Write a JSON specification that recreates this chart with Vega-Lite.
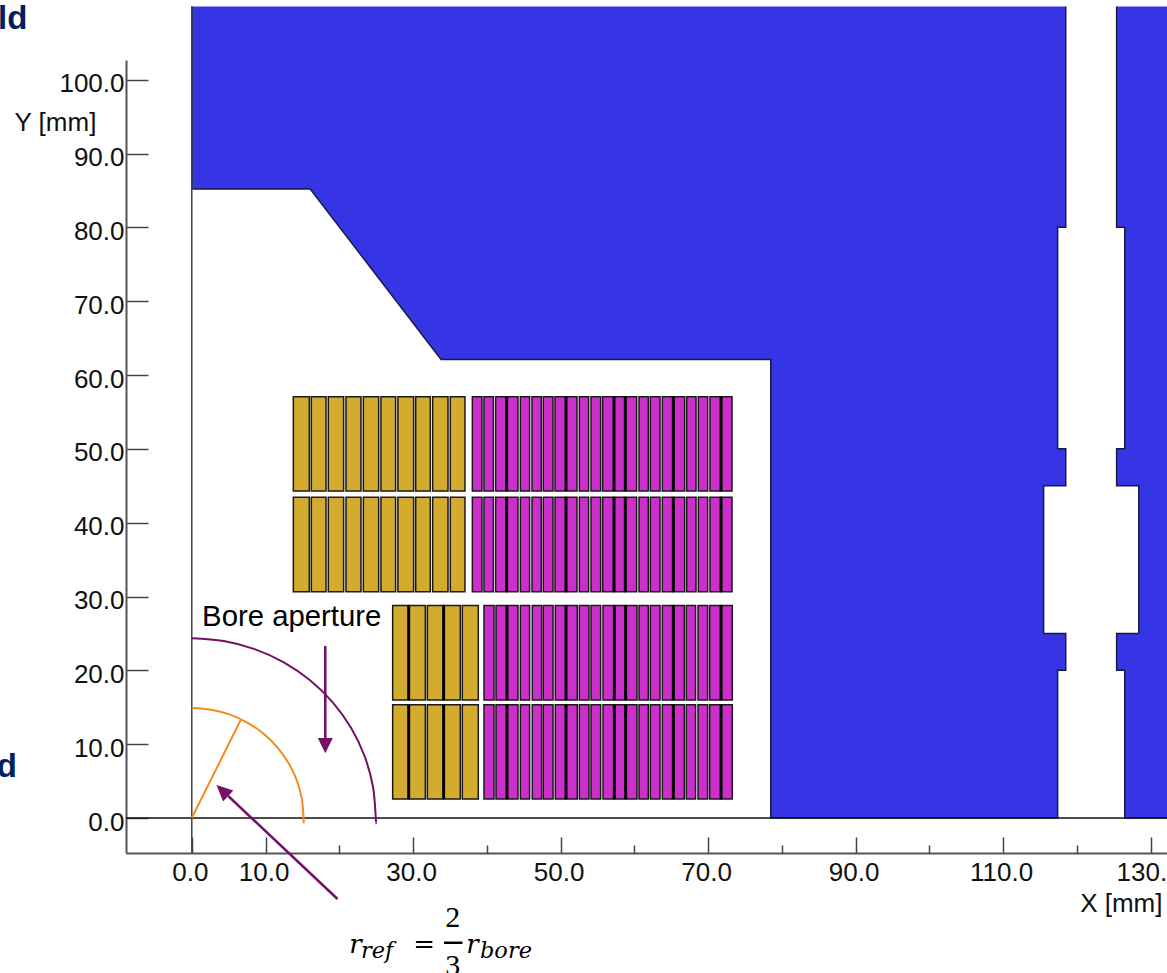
{
"$schema":"https://vega.github.io/schema/vega-lite/v6.json",
"width":1041,"height":793,"autosize":{"type":"none"},"padding":{"left":126,"top":60,"right":0,"bottom":120},
"background":"white",
"config":{"view":{"stroke":null},"axis":{"grid":false,"labelFont":"Liberation Sans","labelFontSize":26,"labelColor":"#111","titleFont":"Liberation Sans","titleFontSize":26,"titleFontWeight":"normal","titleColor":"#111","domainColor":"#555","domainWidth":2,"tickColor":"#444","tickWidth":1.5}},
"encoding":{
"x":{"field":"x","type":"quantitative","scale":{"domain":[-8.92,132.23],"nice":false,"zero":false},"axis":null},
"y":{"field":"y","type":"quantitative","scale":{"domain":[-4.74,102.67],"nice":false,"zero":false},"axis":null}
},
"resolve":{"axis":{"x":"independent","y":"independent"}},
"layer":[
{"data":{"values":[
{"part":"a","i":1,"x":118.5,"y":109.9},{"part":"a","i":2,"x":118.5,"y":80},{"part":"a","i":3,"x":117.4,"y":80},{"part":"a","i":4,"x":117.4,"y":50},{"part":"a","i":5,"x":118.5,"y":50},{"part":"a","i":6,"x":118.5,"y":45},{"part":"a","i":7,"x":115.5,"y":45},{"part":"a","i":8,"x":115.5,"y":25},{"part":"a","i":9,"x":118.5,"y":25},{"part":"a","i":10,"x":118.5,"y":20},{"part":"a","i":11,"x":117.4,"y":20},{"part":"a","i":12,"x":117.4,"y":0},{"part":"a","i":13,"x":78.5,"y":0},{"part":"a","i":14,"x":78.5,"y":62.1},{"part":"a","i":15,"x":33.8,"y":62.1},{"part":"a","i":16,"x":16.06,"y":85.2},{"part":"a","i":17,"x":0,"y":85.2},{"part":"a","i":18,"x":0,"y":109.9},
{"part":"b","i":1,"x":125.4,"y":109.9},{"part":"b","i":2,"x":125.4,"y":80},{"part":"b","i":3,"x":126.5,"y":80},{"part":"b","i":4,"x":126.5,"y":50},{"part":"b","i":5,"x":125.4,"y":50},{"part":"b","i":6,"x":125.4,"y":45},{"part":"b","i":7,"x":128.4,"y":45},{"part":"b","i":8,"x":128.4,"y":25},{"part":"b","i":9,"x":125.4,"y":25},{"part":"b","i":10,"x":125.4,"y":20},{"part":"b","i":11,"x":126.5,"y":20},{"part":"b","i":12,"x":126.5,"y":0},{"part":"b","i":13,"x":134,"y":0},{"part":"b","i":14,"x":134,"y":109.9}
]},
"mark":{"type":"line","fill":"#3535E6","stroke":"#1a1a40","strokeWidth":1.5,"interpolate":"linear"},
"encoding":{"detail":{"field":"part"},"order":{"field":"i","type":"quantitative"},
"x":{"field":"x","type":"quantitative","scale":{"domain":[-8.92,132.23],"nice":false,"zero":false},"axis":{"orient":"bottom","values":[0,10,30,50,70,90,110,130],"format":".1f","title":"X [mm]","tickSize":-16,"labelPadding":22,"labelOffset":-2,"titleX":1036,"titleY":50,"titleAlign":"right","titleAnchor":"end","titleBaseline":"middle"}},
"y":{"field":"y","type":"quantitative","scale":{"domain":[-4.74,102.67],"nice":false,"zero":false},"axis":{"orient":"left","values":[0,10,20,30,40,50,60,70,80,90,100],"format":".1f","title":"Y [mm]","tickSize":-22,"labelPadding":24,"labelOffset":4,"titleAngle":0,"titleX":-112,"titleY":62,"titleAlign":"left","titleBaseline":"middle"}}}},
{"data":{"values":[{"x":0,"y":-4.74,"y2":109.9}]},
"mark":{"type":"rule","color":"#444","strokeWidth":1.5},
"encoding":{"x":{"field":"x","type":"quantitative","scale":{"domain":[-8.92,132.23],"nice":false,"zero":false},"axis":{"orient":"bottom","values":[20,40,60,80,100,120],"labels":false,"domain":false,"title":null,"tickSize":-8}},"y2":{"field":"y2"}}},
{"data":{"values":[{"x":-8.92,"x2":132.23,"y":0}]},
"mark":{"type":"rule","color":"#111","strokeWidth":1.5},
"encoding":{"x2":{"field":"x2"}}},
{"data":{"values":[
{"kind":"g","x":13.77,"x2":15.94,"y":57.06,"y2":44.3},{"kind":"g","x":16.21,"x2":18.2,"y":57.06,"y2":44.3},{"kind":"g","x":18.51,"x2":20.59,"y":57.06,"y2":44.3},{"kind":"g","x":20.91,"x2":22.94,"y":57.06,"y2":44.3},{"kind":"g","x":23.26,"x2":25.34,"y":57.06,"y2":44.3},{"kind":"g","x":25.65,"x2":27.64,"y":57.06,"y2":44.3},{"kind":"g","x":27.95,"x2":30.08,"y":57.06,"y2":44.3},{"kind":"g","x":30.36,"x2":32.34,"y":57.06,"y2":44.3},{"kind":"g","x":32.66,"x2":34.74,"y":57.06,"y2":44.3},{"kind":"g","x":35.05,"x2":37.04,"y":57.06,"y2":44.3},
{"kind":"m","x":38.04,"x2":39.35,"y":57.06,"y2":44.3},{"kind":"m","x":39.62,"x2":40.89,"y":57.06,"y2":44.3},{"kind":"m","x":41.2,"x2":42.69,"y":57.06,"y2":44.3},{"kind":"m","x":42.69,"x2":44.23,"y":57.06,"y2":44.3},{"kind":"m","x":44.55,"x2":45.81,"y":57.06,"y2":44.3},{"kind":"m","x":46.13,"x2":47.39,"y":57.06,"y2":44.3},{"kind":"m","x":47.66,"x2":48.98,"y":57.06,"y2":44.3},{"kind":"m","x":49.25,"x2":50.74,"y":57.06,"y2":44.3},{"kind":"m","x":50.74,"x2":52.23,"y":57.06,"y2":44.3},{"kind":"m","x":52.55,"x2":53.81,"y":57.06,"y2":44.3},{"kind":"m","x":54.13,"x2":55.44,"y":57.06,"y2":44.3},{"kind":"m","x":55.71,"x2":57.25,"y":57.06,"y2":44.3},{"kind":"m","x":57.25,"x2":58.78,"y":57.06,"y2":44.3},{"kind":"m","x":58.78,"x2":60.32,"y":57.06,"y2":44.3},{"kind":"m","x":60.64,"x2":61.9,"y":57.06,"y2":44.3},{"kind":"m","x":62.17,"x2":63.49,"y":57.06,"y2":44.3},{"kind":"m","x":63.8,"x2":65.29,"y":57.06,"y2":44.3},{"kind":"m","x":65.29,"x2":66.83,"y":57.06,"y2":44.3},{"kind":"m","x":67.1,"x2":68.37,"y":57.06,"y2":44.3},{"kind":"m","x":68.68,"x2":69.95,"y":57.06,"y2":44.3},{"kind":"m","x":70.26,"x2":71.76,"y":57.06,"y2":44.3},{"kind":"m","x":71.76,"x2":73.25,"y":57.06,"y2":44.3},
{"kind":"g","x":13.77,"x2":15.94,"y":43.44,"y2":30.65},{"kind":"g","x":16.21,"x2":18.2,"y":43.44,"y2":30.65},{"kind":"g","x":18.51,"x2":20.59,"y":43.44,"y2":30.65},{"kind":"g","x":20.91,"x2":22.94,"y":43.44,"y2":30.65},{"kind":"g","x":23.26,"x2":25.34,"y":43.44,"y2":30.65},{"kind":"g","x":25.65,"x2":27.64,"y":43.44,"y2":30.65},{"kind":"g","x":27.95,"x2":30.08,"y":43.44,"y2":30.65},{"kind":"g","x":30.36,"x2":32.34,"y":43.44,"y2":30.65},{"kind":"g","x":32.66,"x2":34.74,"y":43.44,"y2":30.65},{"kind":"g","x":35.05,"x2":37.04,"y":43.44,"y2":30.65},
{"kind":"m","x":38.04,"x2":39.35,"y":43.44,"y2":30.65},{"kind":"m","x":39.62,"x2":40.89,"y":43.44,"y2":30.65},{"kind":"m","x":41.2,"x2":42.69,"y":43.44,"y2":30.65},{"kind":"m","x":42.69,"x2":44.23,"y":43.44,"y2":30.65},{"kind":"m","x":44.55,"x2":45.81,"y":43.44,"y2":30.65},{"kind":"m","x":46.13,"x2":47.39,"y":43.44,"y2":30.65},{"kind":"m","x":47.66,"x2":48.98,"y":43.44,"y2":30.65},{"kind":"m","x":49.25,"x2":50.74,"y":43.44,"y2":30.65},{"kind":"m","x":50.74,"x2":52.23,"y":43.44,"y2":30.65},{"kind":"m","x":52.55,"x2":53.81,"y":43.44,"y2":30.65},{"kind":"m","x":54.13,"x2":55.44,"y":43.44,"y2":30.65},{"kind":"m","x":55.71,"x2":57.25,"y":43.44,"y2":30.65},{"kind":"m","x":57.25,"x2":58.78,"y":43.44,"y2":30.65},{"kind":"m","x":58.78,"x2":60.32,"y":43.44,"y2":30.65},{"kind":"m","x":60.64,"x2":61.9,"y":43.44,"y2":30.65},{"kind":"m","x":62.17,"x2":63.49,"y":43.44,"y2":30.65},{"kind":"m","x":63.8,"x2":65.29,"y":43.44,"y2":30.65},{"kind":"m","x":65.29,"x2":66.83,"y":43.44,"y2":30.65},{"kind":"m","x":67.1,"x2":68.37,"y":43.44,"y2":30.65},{"kind":"m","x":68.68,"x2":69.95,"y":43.44,"y2":30.65},{"kind":"m","x":70.26,"x2":71.76,"y":43.44,"y2":30.65},{"kind":"m","x":71.76,"x2":73.25,"y":43.44,"y2":30.65},
{"kind":"g","x":27.24,"x2":29.41,"y":28.8,"y2":15.98},{"kind":"g","x":29.41,"x2":31.67,"y":28.8,"y2":15.98},{"kind":"g","x":31.94,"x2":34.15,"y":28.8,"y2":15.98},{"kind":"g","x":34.15,"x2":36.41,"y":28.8,"y2":15.98},{"kind":"g","x":36.68,"x2":38.85,"y":28.8,"y2":15.98},
{"kind":"m","x":39.62,"x2":40.98,"y":28.8,"y2":15.98},{"kind":"m","x":41.25,"x2":42.74,"y":28.8,"y2":15.98},{"kind":"m","x":42.74,"x2":44.23,"y":28.8,"y2":15.98},{"kind":"m","x":44.55,"x2":45.81,"y":28.8,"y2":15.98},{"kind":"m","x":46.17,"x2":47.44,"y":28.8,"y2":15.98},{"kind":"m","x":47.66,"x2":48.98,"y":28.8,"y2":15.98},{"kind":"m","x":49.29,"x2":50.74,"y":28.8,"y2":15.98},{"kind":"m","x":50.74,"x2":52.27,"y":28.8,"y2":15.98},{"kind":"m","x":52.55,"x2":53.86,"y":28.8,"y2":15.98},{"kind":"m","x":54.13,"x2":55.44,"y":28.8,"y2":15.98},{"kind":"m","x":55.76,"x2":57.29,"y":28.8,"y2":15.98},{"kind":"m","x":57.29,"x2":58.83,"y":28.8,"y2":15.98},{"kind":"m","x":58.83,"x2":60.37,"y":28.8,"y2":15.98},{"kind":"m","x":60.64,"x2":61.9,"y":28.8,"y2":15.98},{"kind":"m","x":62.17,"x2":63.49,"y":28.8,"y2":15.98},{"kind":"m","x":63.8,"x2":65.29,"y":28.8,"y2":15.98},{"kind":"m","x":65.29,"x2":66.78,"y":28.8,"y2":15.98},{"kind":"m","x":67.05,"x2":68.31,"y":28.8,"y2":15.98},{"kind":"m","x":68.64,"x2":69.95,"y":28.8,"y2":15.98},{"kind":"m","x":70.22,"x2":71.76,"y":28.8,"y2":15.98},{"kind":"m","x":71.76,"x2":73.29,"y":28.8,"y2":15.98},
{"kind":"g","x":27.24,"x2":29.41,"y":15.35,"y2":2.57},{"kind":"g","x":29.41,"x2":31.67,"y":15.35,"y2":2.57},{"kind":"g","x":31.94,"x2":34.15,"y":15.35,"y2":2.57},{"kind":"g","x":34.15,"x2":36.41,"y":15.35,"y2":2.57},{"kind":"g","x":36.68,"x2":38.85,"y":15.35,"y2":2.57},
{"kind":"m","x":39.62,"x2":40.98,"y":15.35,"y2":2.57},{"kind":"m","x":41.25,"x2":42.74,"y":15.35,"y2":2.57},{"kind":"m","x":42.74,"x2":44.23,"y":15.35,"y2":2.57},{"kind":"m","x":44.55,"x2":45.81,"y":15.35,"y2":2.57},{"kind":"m","x":46.17,"x2":47.44,"y":15.35,"y2":2.57},{"kind":"m","x":47.66,"x2":48.98,"y":15.35,"y2":2.57},{"kind":"m","x":49.29,"x2":50.74,"y":15.35,"y2":2.57},{"kind":"m","x":50.74,"x2":52.27,"y":15.35,"y2":2.57},{"kind":"m","x":52.55,"x2":53.86,"y":15.35,"y2":2.57},{"kind":"m","x":54.13,"x2":55.44,"y":15.35,"y2":2.57},{"kind":"m","x":55.76,"x2":57.29,"y":15.35,"y2":2.57},{"kind":"m","x":57.29,"x2":58.83,"y":15.35,"y2":2.57},{"kind":"m","x":58.83,"x2":60.37,"y":15.35,"y2":2.57},{"kind":"m","x":60.64,"x2":61.9,"y":15.35,"y2":2.57},{"kind":"m","x":62.17,"x2":63.49,"y":15.35,"y2":2.57},{"kind":"m","x":63.8,"x2":65.29,"y":15.35,"y2":2.57},{"kind":"m","x":65.29,"x2":66.78,"y":15.35,"y2":2.57},{"kind":"m","x":67.05,"x2":68.31,"y":15.35,"y2":2.57},{"kind":"m","x":68.64,"x2":69.95,"y":15.35,"y2":2.57},{"kind":"m","x":70.22,"x2":71.76,"y":15.35,"y2":2.57},{"kind":"m","x":71.76,"x2":73.29,"y":15.35,"y2":2.57}
]},
"mark":{"type":"rect","stroke":"#1a1a1a","strokeWidth":1.5},
"encoding":{"x2":{"field":"x2"},"y2":{"field":"y2"},"fill":{"field":"kind","type":"nominal","legend":null,"scale":{"domain":["g","m"],"range":["#D2AB2F","#CC2FCC"]}}}},
{"data":{"values":[
{"x":42.69,"y":57.06,"y2":44.3},{"x":50.74,"y":57.06,"y2":44.3},{"x":57.25,"y":57.06,"y2":44.3},{"x":58.78,"y":57.06,"y2":44.3},{"x":65.29,"y":57.06,"y2":44.3},{"x":71.76,"y":57.06,"y2":44.3},
{"x":42.69,"y":43.44,"y2":30.65},{"x":50.74,"y":43.44,"y2":30.65},{"x":57.25,"y":43.44,"y2":30.65},{"x":58.78,"y":43.44,"y2":30.65},{"x":65.29,"y":43.44,"y2":30.65},{"x":71.76,"y":43.44,"y2":30.65},
{"x":29.41,"y":28.8,"y2":15.98},{"x":34.15,"y":28.8,"y2":15.98},{"x":42.74,"y":28.8,"y2":15.98},{"x":50.74,"y":28.8,"y2":15.98},{"x":57.29,"y":28.8,"y2":15.98},{"x":58.83,"y":28.8,"y2":15.98},{"x":65.29,"y":28.8,"y2":15.98},{"x":71.76,"y":28.8,"y2":15.98},
{"x":29.41,"y":15.35,"y2":2.57},{"x":34.15,"y":15.35,"y2":2.57},{"x":42.74,"y":15.35,"y2":2.57},{"x":50.74,"y":15.35,"y2":2.57},{"x":57.29,"y":15.35,"y2":2.57},{"x":58.83,"y":15.35,"y2":2.57},{"x":65.29,"y":15.35,"y2":2.57},{"x":71.76,"y":15.35,"y2":2.57}
]},
"mark":{"type":"rule","color":"#000","strokeWidth":3},
"encoding":{"y2":{"field":"y2"}}},
{"data":{"values":[
{"i":1,"x":0,"y":24.35},{"i":2,"x":4.33,"y":23.98},{"i":3,"x":8.53,"y":22.88},{"i":4,"x":12.48,"y":21.09},{"i":5,"x":16.04,"y":18.65},{"i":6,"x":19.11,"y":15.65},{"i":7,"x":21.61,"y":12.18},{"i":8,"x":23.45,"y":8.33},{"i":9,"x":24.57,"y":4.23},{"i":10,"x":24.95,"y":0},{"i":11,"x":24.95,"y":-0.7}
]},
"mark":{"type":"line","color":"#760F68","strokeWidth":2,"interpolate":"cardinal"},
"encoding":{"order":{"field":"i","type":"quantitative"}}},
{"data":{"values":[
{"i":1,"x":0,"y":14.9},{"i":2,"x":2.63,"y":14.67},{"i":3,"x":5.18,"y":14.0},{"i":4,"x":7.58,"y":12.9},{"i":5,"x":9.74,"y":11.41},{"i":6,"x":11.61,"y":9.58},{"i":7,"x":13.12,"y":7.45},{"i":8,"x":14.24,"y":5.1},{"i":9,"x":14.92,"y":2.59},{"i":10,"x":15.15,"y":0},{"i":11,"x":15.15,"y":-0.7}
]},
"mark":{"type":"line","color":"#F58A20","strokeWidth":2,"interpolate":"cardinal"},
"encoding":{"order":{"field":"i","type":"quantitative"}}},
{"data":{"values":[{"x":0,"y":0,"x2":6.63,"y2":13.27}]},
"mark":{"type":"rule","color":"#F58A20","strokeWidth":2},
"encoding":{"x2":{"field":"x2"},"y2":{"field":"y2"}}},
{"data":{"values":[{"x":18.1,"y":23.3,"x2":18.1,"y2":10.84},{"x":19.76,"y":-10.97,"x2":4.94,"y2":2.98}]},
"mark":{"type":"rule","color":"#760F68","strokeWidth":2.5},
"encoding":{"x2":{"field":"x2"},"y2":{"field":"y2"}}},
{"data":{"values":[
{"a":"down","i":1,"x":17.08,"y":10.84},{"a":"down","i":2,"x":19.12,"y":10.84},{"a":"down","i":3,"x":18.1,"y":8.76},
{"a":"diag","i":1,"x":5.63,"y":3.72},{"a":"diag","i":2,"x":4.24,"y":2.23},{"a":"diag","i":3,"x":3.35,"y":4.47}
]},
"mark":{"type":"line","fill":"#760F68","stroke":null,"interpolate":"linear"},
"encoding":{"detail":{"field":"a"},"order":{"field":"i","type":"quantitative"}}},
{"data":{"values":[{"x":1.4,"y":27.2,"t":"Bore aperture"}]},
"mark":{"type":"text","font":"Liberation Sans","fontSize":29.3,"color":"#000","align":"left","baseline":"middle"},
"encoding":{"text":{"field":"t"}}},
{"data":{"values":[{"x":-22.3,"y":108.2,"t":"ld"},{"x":-23.7,"y":6.85,"t":"d"}]},
"mark":{"type":"text","font":"Liberation Sans","fontSize":33,"fontWeight":"bold","color":"#002060","align":"right","baseline":"middle"},
"encoding":{"text":{"field":"t"}}},
{"data":{"values":[{"x":21.35,"y":-18.29,"t":"r"},{"x":37.2,"y":-18.29,"t":"r"}]},
"mark":{"type":"text","font":"DejaVu Serif","fontStyle":"italic","fontSize":26,"color":"#000","align":"left","baseline":"alphabetic"},
"encoding":{"text":{"field":"t"}}},
{"data":{"values":[{"x":22.95,"y":-18.96,"t":"ref"},{"x":39.07,"y":-18.96,"t":"bore"}]},
"mark":{"type":"text","font":"DejaVu Serif","fontStyle":"italic","fontSize":22.5,"color":"#000","align":"left","baseline":"alphabetic"},
"encoding":{"text":{"field":"t"}}},
{"data":{"values":[{"x":31.5,"y":-18.35,"t":"="}]},
"mark":{"type":"text","font":"DejaVu Serif","fontSize":26,"color":"#000","align":"center","baseline":"alphabetic"},
"encoding":{"text":{"field":"t"}}},
{"data":{"values":[{"x":35.4,"y":-14.7,"t":"2"},{"x":35.4,"y":-21.2,"t":"3"}]},
"mark":{"type":"text","font":"Liberation Serif","fontSize":30,"color":"#000","align":"center","baseline":"alphabetic"},
"encoding":{"text":{"field":"t"}}},
{"data":{"values":[{"x":34.2,"x2":36.7,"y":-16.9}]},
"mark":{"type":"rule","color":"#000","strokeWidth":2.5},
"encoding":{"x2":{"field":"x2"}}}
]
}
